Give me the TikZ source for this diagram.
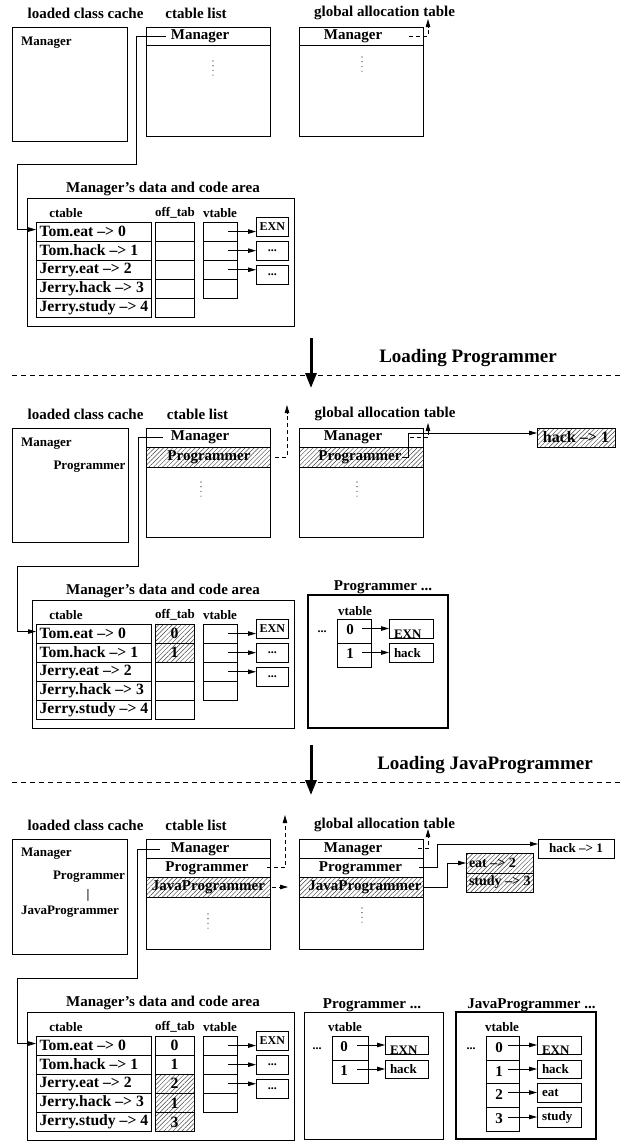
\documentclass[tikz,border=0pt]{standalone}
\usepackage{fontspec}
\setmainfont{Liberation Serif}
\usetikzlibrary{arrows.meta,patterns.meta}
\newcommand\tdots{...}
\newcommand\rbox[6][]{\node[rbx,#1,minimum width={(#5)-(#3)},minimum height={(#6)-(#4)},anchor=north west] (#2) at (#3,#4) {};}
\newcommand\vdt[2]{\foreach \k in {0,1,2,3}{\fill (#1,{#2+4.7*\k}) circle[radius=0.55pt];}}
\newcommand\DataArea[4]{%
\begin{scope}[shift={(0,#2)}]
\node[tA] (#1t) at (163,-33) {Manager’s data and code area};
\rbox{#1box}{#4}{-24}{294}{104}
\node[tB] (#1l1) at (66,-9) {ctable};
\node[tB] (#1l2) at (175,-9) {off\_tab};
\node[tB] (#1l3) at (220,-9) {vtable};
\foreach \i/\s in {0/Tom.eat --{>} 0,1/Tom.hack --{>} 1,2/Jerry.eat --{>} 2,3/Jerry.hack --{>} 3,4/Jerry.study --{>} 4}{%
  \rbox{#1r\i}{36}{\i*19.1}{151}{(\i+1)*19.1}
  \node[tR,anchor=west] (#1rt\i) at (39.5,{\i*19.1+9.55}) {\s};}
\foreach \i/\t/\st in {#3}{%
  \rbox[\st]{#1o\i}{155}{\i*19.1}{194}{(\i+1)*19.1}
  \node[tR] (#1ot\i) at (#1o\i) {\t};}
\foreach \i in {0,1,2,3}{\rbox{#1v\i}{203}{\i*19.1}{237}{(\i+1)*19.1}}
\foreach \i/\s in {0/EXN,1/\tdots,2/\tdots}{%
  \rbox{#1x\i}{256}{-5+24*\i}{288.5}{14+24*\i}
  \node[tC] (#1xt\i) at (#1x\i) {\s};
  \draw[arr] ([xshift=-9pt]#1v\i.east) -- ++(28,0);}
\end{scope}}
\begin{document}
\begin{tikzpicture}[x=1pt,y=-1pt,
  every node/.style={inner sep=0pt,outer sep=0pt},
  rbx/.style={draw,line width=0.8pt,inner sep=0pt,outer sep=0pt},
  thickbox/.style={line width=2.4pt},
  nohatch/.style={},
  hatch/.style={pattern={Lines[angle=45,distance=3.2pt,line width=0.45pt]},pattern color=black!75},
  tL/.style={font=\fontsize{19}{19}\selectfont\bfseries},
  tH/.style={font=\fontsize{16}{16}\selectfont\bfseries},
  tR/.style={font=\fontsize{15.7}{15.7}\selectfont\bfseries},
  tA/.style={font=\fontsize{15}{15}\selectfont\bfseries},
  tD/.style={font=\fontsize{14}{14}\selectfont\bfseries},
  tB/.style={font=\fontsize{13}{13}\selectfont\bfseries},
  tC/.style={font=\fontsize{12}{12}\selectfont\bfseries},
  ln/.style={line width=0.8pt},
  arr/.style={ln,-{Triangle[length=8pt,width=4.5pt]}},
  darr/.style={arr,dash pattern=on 4pt off 3pt},
  dln/.style={line width=0.7pt,dash pattern=on 5pt off 4pt},
  big/.style={line width=3pt,-{Triangle[length=15pt,width=11pt]}},
]
\useasboundingbox (0,0) rectangle (622,1141);

%% ===== Section 1 =====
\node[tA] (a1) at (85.5,13) {loaded class cache};
\node[tA] (b1) at (196,13) {ctable list};
\node[tA] (c1) at (384.5,13) {global allocation table};
\rbox{lc1}{12}{27}{127}{141}
\node[tB,anchor=west] (lc1m) at (21,43) {Manager};
\rbox{cl1}{146}{27}{270}{136}
\rbox{cl1r0}{146}{27}{270}{45}
\node[tA] (cl1m) at (200,36) {Manager};
\vdt{213}{61}
\rbox{ga1}{299}{27}{423}{136}
\rbox{ga1r0}{299}{27}{423}{45}
\node[tA] (ga1m) at (353,36) {Manager};
\vdt{362}{57}
\coordinate (ga1q) at (428,19);
\draw[darr] ([xshift=-14pt]ga1r0.east) -| (ga1q);
\DataArea{d1}{222}{0//nohatch,1//nohatch,2//nohatch,3//nohatch,4//nohatch}{27}
\coordinate (k1a) at (136,164);
\coordinate (k1b) at (17,164);
\draw[arr] ([xshift=-5pt]cl1m.west) -| (k1a) -- (k1b) |- ([yshift=2pt]d1r0.west);

%% transition 1
\coordinate (ba1s) at (311,338);
\coordinate (ba1e) at (311,388);
\draw[big] (ba1s) -- (ba1e);
\node[tL] (ld1) at (468,358) {Loading Programmer};
\coordinate (sp1a) at (12,375);
\coordinate (sp1b) at (620,375);
\draw[dln] (sp1a) -- (sp1b);

%% ===== Section 2 =====
\node[tA] (a2) at (85.5,414) {loaded class cache};
\node[tA] (b2) at (197.5,414) {ctable list};
\node[tA] (c2) at (385,414) {global allocation table};
\rbox{lc2}{12}{428}{128}{542}
\node[tB,anchor=west] (lc2m) at (21,444) {Manager};
\node[tB,anchor=east] (lc2p) at (125.5,467) {Programmer};
\rbox{cl2}{146}{428}{270}{537}
\rbox{cl2r0}{146}{428}{270}{447}
\rbox[hatch]{cl2r1}{146}{447}{270}{467}
\node[tA] (cl2m) at (200,437) {Manager};
\node[tA] (cl2p) at (209,457) {Programmer};
\vdt{201}{482}
\rbox{ga2}{299}{428}{423}{537}
\rbox{ga2r0}{299}{428}{423}{447}
\rbox[hatch]{ga2r1}{299}{447}{423}{467}
\node[tA] (ga2m) at (353,437) {Manager};
\node[tA] (ga2p) at (360,457) {Programmer};
\vdt{357}{482}
\rbox[hatch]{hk2}{537}{428}{615}{447}
\node[tH] (hk2t) at (576,437.5) {hack --{>} 1};
\coordinate (cl2d) at (287,405);
\draw[darr] ([xshift=5pt]cl2r1.east) -| (cl2d);
\coordinate (ga2d) at (428,423);
\draw[darr] ([xshift=-13pt]ga2r0.east) -| (ga2d);
\coordinate (ga2k) at (408,433);
\draw[arr] (ga2p.east) -| (ga2k) -- (hk2.west |- ga2k);
\DataArea{d2}{624}{0/0/hatch,1/1/hatch,2//nohatch,3//nohatch,4//nohatch}{32}
\coordinate (k2a) at (138,566);
\coordinate (k2b) at (17,566);
\draw[arr] ([xshift=-8pt]cl2m.west) -| (k2a) -- (k2b) |- ([yshift=2pt]d2r0.west);
% Programmer box (new)
\node[tA] (pg2t) at (383,587) {Programmer \tdots};
\rbox[thickbox]{pg2}{308}{595}{448}{728}
\node[tB] (pg2l) at (355,611) {vtable};
\rbox{pg2v0}{337}{619}{371}{643}
\rbox{pg2v1}{337}{643}{371}{667}
\node[tA] (pg2n0) at (350,630) {0};
\node[tA] (pg2n1) at (350,654) {1};
\node[tC] (pg2dd) at (322,632) {\tdots};
\rbox{pg2x0}{389}{619}{433}{638}
\rbox{pg2x1}{389}{643}{433}{662}
\node[tB,anchor=west] (pg2xt0) at (394,634) {EXN};
\node[tB,anchor=west] (pg2xt1) at (394,653) {hack};
\draw[arr] ([xshift=-27pt]pg2x0.west) -- (pg2x0.west);
\draw[arr] ([xshift=-27pt]pg2x1.west) -- (pg2x1.west);

%% transition 2
\coordinate (ba2s) at (311,745);
\coordinate (ba2e) at (311,795);
\draw[big] (ba2s) -- (ba2e);
\node[tL] (ld2) at (485,765) {Loading JavaProgrammer};
\coordinate (sp2a) at (12,782);
\coordinate (sp2b) at (620,782);
\draw[dln] (sp2a) -- (sp2b);

%% ===== Section 3 =====
\node[tA] (a3) at (85.5,825) {loaded class cache};
\node[tA] (b3) at (196,825) {ctable list};
\node[tA] (c3) at (384.5,825) {global allocation table};
\rbox{lc3}{12}{839}{127}{954}
\node[tB,anchor=west] (lc3m) at (21,854) {Manager};
\node[tB,anchor=east] (lc3p) at (125,877) {Programmer};
\node[tB] (lc3bar) at (88,895) {|};
\node[tB,anchor=west] (lc3j) at (21,912) {JavaProgrammer};
\rbox{cl3}{146}{839}{270}{949}
\rbox{cl3r0}{146}{839}{270}{858}
\rbox{cl3r1}{146}{858}{270}{877}
\rbox[hatch]{cl3r2}{146}{877}{270}{897}
\node[tA] (cl3m) at (200,849) {Manager};
\node[tA] (cl3p) at (207,868) {Programmer};
\node[tA] (cl3j) at (208.5,887) {JavaProgrammer};
\vdt{208}{914}
\rbox{ga3}{299}{839}{423}{949}
\rbox{ga3r0}{299}{839}{423}{858}
\rbox{ga3r1}{299}{858}{423}{877}
\rbox[hatch]{ga3r2}{299}{877}{423}{897}
\node[tA] (ga3m) at (353,849) {Manager};
\node[tA] (ga3p) at (360.5,868) {Programmer};
\node[tA] (ga3j) at (365,887) {JavaProgrammer};
\vdt{362}{908}
\rbox{hk3}{538}{839}{614}{858}
\node[tB] (hk3t) at (576,848.5) {hack --{>} 1};
\rbox[hatch]{et3}{466}{853}{533}{873}
\rbox[hatch]{st3}{466}{873}{533}{892}
\node[tD,anchor=west] (et3t) at (469,863) {eat --{>} 2};
\node[tD,anchor=west] (st3t) at (469,882.5) {study --{>} 3};
\coordinate (cl3d) at (285,815);
\draw[darr] ([xshift=-3pt]cl3r1.east) -| (cl3d);
\draw[darr] ([xshift=2pt]cl3r2.east) -- ([xshift=-11pt]ga3r2.west);
\coordinate (ga3d) at (428,829);
\draw[darr] ([xshift=-5pt]ga3r0.east) -| (ga3d);
\coordinate (ga3k1) at (437,844);
\draw[arr] ([xshift=-4pt]ga3r1.east) -| (ga3k1) -- (hk3.west |- ga3k1);
\coordinate (ga3k2) at (447,863);
\draw[arr] (ga3r2.east) -| (ga3k2) -- (et3.west |- ga3k2);
\DataArea{d3}{1036}{0/0/nohatch,1/1/nohatch,2/2/hatch,3/1/hatch,4/3/hatch}{27}
\coordinate (k3a) at (137,978);
\coordinate (k3b) at (17,978);
\draw[arr] ([xshift=-11pt]cl3m.west) -| (k3a) -- (k3b) |- ([yshift=2pt]d3r0.west);
% Programmer box
\node[tA] (pg3t) at (372,1005) {Programmer \tdots};
\rbox{pg3}{304}{1012}{443}{1139.5}
\node[tB] (pg3l) at (345,1027) {vtable};
\rbox{pg3v0}{332}{1036}{368}{1060}
\rbox{pg3v1}{332}{1060}{368}{1083}
\node[tA] (pg3n0) at (344,1047) {0};
\node[tA] (pg3n1) at (344,1071) {1};
\node[tC] (pg3dd) at (317,1049) {\tdots};
\rbox{pg3x0}{385}{1036}{428}{1054}
\rbox{pg3x1}{385}{1060}{428}{1078}
\node[tB,anchor=west] (pg3xt0) at (390,1050) {EXN};
\node[tB,anchor=west] (pg3xt1) at (390,1069) {hack};
\draw[arr] ([xshift=-28pt]pg3x0.west) -- (pg3x0.west);
\draw[arr] ([xshift=-28pt]pg3x1.west) -- (pg3x1.west);
% JavaProgrammer box (new)
\node[tA] (jp3t) at (531.5,1005) {JavaProgrammer \tdots};
\rbox[thickbox]{jp3}{456}{1012}{596}{1139}
\node[tB] (jp3l) at (502,1027) {vtable};
\rbox{jp3v0}{486}{1036}{519}{1060}
\rbox{jp3v1}{486}{1060}{519}{1083}
\rbox{jp3v2}{486}{1083}{519}{1107}
\rbox{jp3v3}{486}{1107}{519}{1131}
\node[tA] (jp3n0) at (499,1048) {0};
\node[tA] (jp3n1) at (499,1071.5) {1};
\node[tA] (jp3n2) at (499,1095) {2};
\node[tA] (jp3n3) at (499,1119) {3};
\node[tC] (jp3dd) at (471,1049) {\tdots};
\rbox{jp3x0}{537}{1036}{581}{1054}
\rbox{jp3x1}{537}{1060}{581}{1078}
\rbox{jp3x2}{537}{1083}{581}{1102}
\rbox{jp3x3}{537}{1107}{581}{1127}
\node[tB,anchor=west] (jp3xt0) at (542,1050) {EXN};
\node[tB,anchor=west] (jp3xt1) at (542,1069) {hack};
\node[tB,anchor=west] (jp3xt2) at (542,1092.5) {eat};
\node[tB,anchor=west] (jp3xt3) at (542,1117) {study};
\foreach \j in {0,1,2,3}{\draw[arr] ([xshift=-29pt]jp3x\j.west) -- (jp3x\j.west);}
\end{tikzpicture}
\end{document}
